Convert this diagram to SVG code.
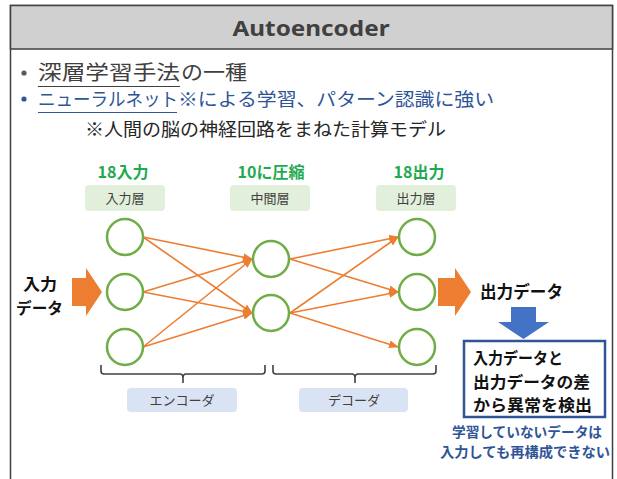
<svg xmlns="http://www.w3.org/2000/svg" width="617" height="479" viewBox="0 0 617 479">
<style>
.jp{font-family:"Noto Sans CJK JP","Noto Sans",sans-serif}
.node{fill:#ffffff;stroke:#70ad47;stroke-width:2.5}
.edge{stroke:#ed7d31;stroke-width:1.6;fill:none;marker-end:url(#ah)}
.lbl{fill:#e2efda}
.lblb{fill:#dae3f3}
.lt{font-size:13px;fill:#404040;text-anchor:middle}
.gt{font-size:16px;font-weight:bold;fill:#1faa4f;text-anchor:middle}
.bt{font-size:17px;font-weight:bold;fill:#111111}
.rt{font-size:16px;font-weight:bold;fill:#111111}
.brace{fill:none;stroke:#404040;stroke-width:1.6}
</style>
<defs>
<marker id="ah" markerWidth="10" markerHeight="8" refX="9" refY="4" orient="auto" markerUnits="userSpaceOnUse">
<path d="M0,0 L10,4 L0,8 Z" fill="#ed7d31"/>
</marker>
</defs>
<rect x="0" y="0" width="617" height="479" fill="#ffffff"/>
<g id="frame">
<path d="M10.5,479 V5.5 H612.5 V479" fill="#ffffff" stroke="#404040" stroke-width="1.5"/>
<rect x="10.5" y="5.5" width="602" height="43.5" fill="#d0d0d0" stroke="#404040" stroke-width="1.5"/>
<text x="311" y="36" text-anchor="middle" font-family="'Noto Sans','Liberation Sans',sans-serif" font-size="22" font-weight="bold" fill="#404040" textLength="157" lengthAdjust="spacingAndGlyphs">Autoencoder</text>
</g>
<g id="bullets" class="jp">
<circle cx="24" cy="73" r="2.6" fill="#595959"/>
<text x="38" y="80" font-size="20.5" fill="#404040" textLength="142" lengthAdjust="spacingAndGlyphs">深層学習手法</text>
<text x="181" y="80" font-size="20.5" fill="#404040" textLength="66" lengthAdjust="spacingAndGlyphs">の一種</text>
<line x1="38" y1="86.5" x2="180" y2="86.5" stroke="#404040" stroke-width="1"/>
<circle cx="24" cy="99" r="2.6" fill="#2f5597"/>
<text x="38" y="106" font-size="18.5" fill="#2f5597" textLength="140" lengthAdjust="spacingAndGlyphs">ニューラルネット</text>
<text x="178" y="106" font-size="18.5" fill="#2f5597" textLength="316" lengthAdjust="spacingAndGlyphs">※による学習、パターン認識に強い</text>
<line x1="38" y1="112.5" x2="177" y2="112.5" stroke="#2f5597" stroke-width="1"/>
<text x="85" y="136" font-size="18" fill="#262626" textLength="361" lengthAdjust="spacingAndGlyphs">※人間の脳の神経回路をまねた計算モデル</text>
</g>
<g id="layer-labels" class="jp">
<text x="123" y="178" class="gt">18入力</text>
<text x="271" y="178" class="gt">10に圧縮</text>
<text x="419" y="178" class="gt">18出力</text>
<rect x="85" y="185" width="80" height="26" rx="4" class="lbl"/>
<text x="125" y="203" class="lt">入力層</text>
<rect x="230" y="185" width="80" height="26" rx="4" class="lbl"/>
<text x="270" y="203" class="lt">中間層</text>
<rect x="376" y="185" width="80" height="26" rx="4" class="lbl"/>
<text x="416" y="203" class="lt">出力層</text>
</g>
<g id="connectors">
<line x1="143" y1="237" x2="252" y2="259" class="edge"/>
<line x1="143" y1="237" x2="252" y2="313" class="edge"/>
<line x1="143" y1="292" x2="252" y2="259" class="edge"/>
<line x1="143" y1="292" x2="252" y2="313" class="edge"/>
<line x1="143" y1="347" x2="252" y2="259" class="edge"/>
<line x1="143" y1="347" x2="252" y2="313" class="edge"/>
<line x1="290" y1="259" x2="398" y2="237" class="edge"/>
<line x1="290" y1="259" x2="398" y2="292" class="edge"/>
<line x1="290" y1="313" x2="398" y2="237" class="edge"/>
<line x1="290" y1="313" x2="398" y2="292" class="edge"/>
<line x1="290" y1="313" x2="398" y2="347" class="edge"/>
</g>
<g id="input-nodes">
<circle id="in1" cx="125" cy="237" r="18" class="node"/>
<circle id="in2" cx="125" cy="292" r="18" class="node"/>
<circle id="in3" cx="125" cy="347" r="18" class="node"/>
</g>
<g id="hidden-nodes">
<circle id="h1" cx="271" cy="259" r="18" class="node"/>
<circle id="h2" cx="271" cy="313" r="18" class="node"/>
</g>
<g id="output-nodes">
<circle id="out1" cx="417" cy="237" r="18" class="node"/>
<circle id="out2" cx="417" cy="292" r="18" class="node"/>
<circle id="out3" cx="417" cy="347" r="18" class="node"/>
</g>
<g id="input-data" class="jp">
<text x="23" y="290" class="bt" style="font-size:16px" textLength="34" lengthAdjust="spacingAndGlyphs">入力</text>
<text x="16" y="313.5" class="bt" style="font-size:15.5px" textLength="47" lengthAdjust="spacingAndGlyphs">データ</text>
<path d="M72,278 H86 V268 L102,292 L86,316 V306 H72 Z" fill="#ed7d31"/>
</g>
<g id="output-data" class="jp">
<path d="M438,278 H455 V268 L471,292 L455,316 V306 H438 Z" fill="#ed7d31"/>
<text x="480" y="298" class="bt" textLength="83" lengthAdjust="spacingAndGlyphs">出力データ</text>
<path d="M511,307 H536 V322 H549 L523.5,339 L498,322 H511 Z" fill="#4472c4"/>
</g>
<g id="result-box" class="jp">
<rect x="464" y="341" width="141" height="76" fill="#ffffff" stroke="#2f5597" stroke-width="2.5"/>
<text x="473" y="364" class="rt" textLength="90" lengthAdjust="spacingAndGlyphs">入力データと</text>
<text x="473" y="388" class="rt" textLength="117" lengthAdjust="spacingAndGlyphs">出力データの差</text>
<text x="473" y="411" class="rt" textLength="119" lengthAdjust="spacingAndGlyphs">から異常を検出</text>
<text x="527" y="437" font-size="14" font-weight="bold" fill="#2f5597" text-anchor="middle" textLength="150" lengthAdjust="spacingAndGlyphs">学習していないデータは</text>
<text x="525" y="457" font-size="14" font-weight="bold" fill="#2f5597" text-anchor="middle" textLength="170" lengthAdjust="spacingAndGlyphs">入力しても再構成できない</text>
</g>
<g id="encoder" class="jp">
<path class="brace" d="M101,365 V371 Q101,374 104,374 H180 Q183,374 183,378 V383 M183,378 Q183,374 186,374 H262 Q265,374 265,371 V365"/>
<rect x="127" y="388" width="110" height="24" rx="4" class="lblb"/>
<text x="182" y="405" class="lt">エンコーダ</text>
</g>
<g id="decoder" class="jp">
<path class="brace" d="M273,365 V371 Q273,374 276,374 H352 Q355,374 355,378 V383 M355,378 Q355,374 358,374 H433 Q436,374 436,371 V365"/>
<rect x="299" y="388" width="109" height="24" rx="4" class="lblb"/>
<text x="354" y="405" class="lt">デコーダ</text>
</g>
</svg>
